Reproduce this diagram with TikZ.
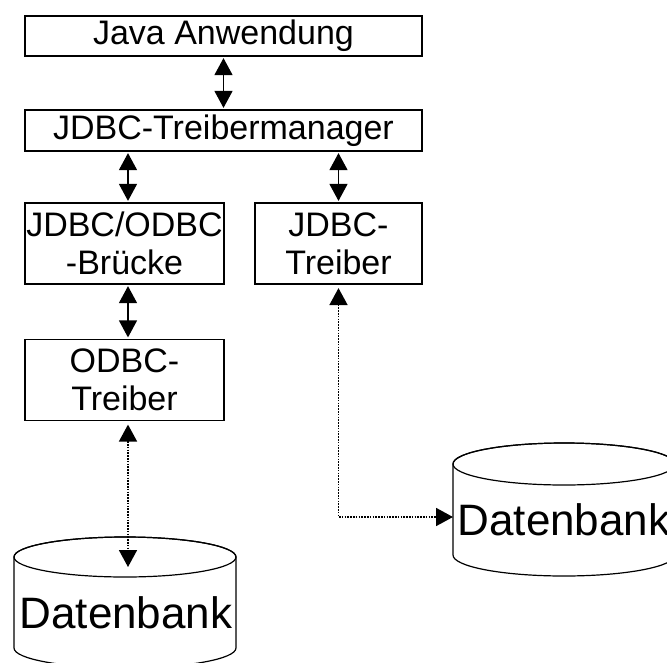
\documentclass[tikz,border=0pt]{standalone}
\usepackage{fontspec}
\setmainfont{Liberation Sans}
\usetikzlibrary{arrows.meta}
\begin{document}
\begin{tikzpicture}[x=1pt,y=1pt,
  box/.style={draw, line width=1.2pt, inner sep=0pt, align=center,
    font=\fontsize{34}{38}\selectfont},
  link/.style={line width=1.3pt, {Triangle[length=17pt,width=18pt]}-{Triangle[length=17pt,width=18pt]},
    shorten <=1.5pt, shorten >=1.5pt},
  dotlink/.style={link, line width=1.8pt, dash pattern=on 1.6pt off 1.2pt,
    shorten <=3.5pt, shorten >=0pt},
  dbtext/.style={font=\fontsize{44}{50}\selectfont, inner sep=0pt, anchor=base},
  drum/.style={draw, fill=white, line width=1.2pt}]
\useasboundingbox (0,0) rectangle (667,-662);
\clip (0,0) rectangle (667,-662);

% boxes of the driver stack
\node[box, minimum width=397pt, minimum height=40pt] (app) at (223.5,-36) {Java Anwendung};
\node[box, minimum width=397pt, minimum height=41pt] (mgr) at (223.5,-130.5) {JDBC-Treibermanager};
\node[box, minimum width=199pt, minimum height=81pt] (bridge) at (124.5,-243.5) {JDBC/ODBC\\-Brücke};
\node[box, minimum width=167pt, minimum height=81pt] (jdrv) at (338.5,-243.5) {JDBC-\\Treiber};
\node[box, minimum width=199pt, minimum height=81pt] (odrv) at (124.5,-380) {ODBC-\\Treiber};

% left database drum
\path[drum] (14,-557) -- (14,-648)
  arc[start angle=180, end angle=360, x radius=111, y radius=20] -- (236,-557)
  arc[start angle=0, end angle=180, x radius=111, y radius=20] -- cycle;
\draw[line width=1.2pt] (125,-557) ellipse[x radius=111, y radius=20];
\node[dbtext] (dbl) at (126,-628) {Datenbank};

% right database drum
\path[drum] (453,-464) -- (453,-555)
  arc[start angle=180, end angle=360, x radius=111, y radius=21] -- (675,-464)
  arc[start angle=0, end angle=180, x radius=111, y radius=21] -- cycle;
\draw[line width=1.2pt] (564,-464) ellipse[x radius=111, y radius=21];
\node[dbtext] (dbr) at (564,-535) {Datenbank};

% connector anchors
\coordinate (lcol) at ([xshift=3.5pt]bridge.north);
\coordinate (ltip) at (128,-567);
\coordinate (rtip) at (453,-517);

% connectors
\draw[link] (app.south) -- (mgr.north);
\draw[link] (lcol |- mgr.south) -- (lcol);
\draw[link] (mgr.south -| jdrv.north) -- (jdrv.north);
\draw[link] (lcol |- bridge.south) -- (lcol |- odrv.north);
\draw[dotlink] (lcol |- odrv.south) -- (ltip);
\draw[dotlink] (jdrv.south) |- (rtip);
\end{tikzpicture}
\end{document}
